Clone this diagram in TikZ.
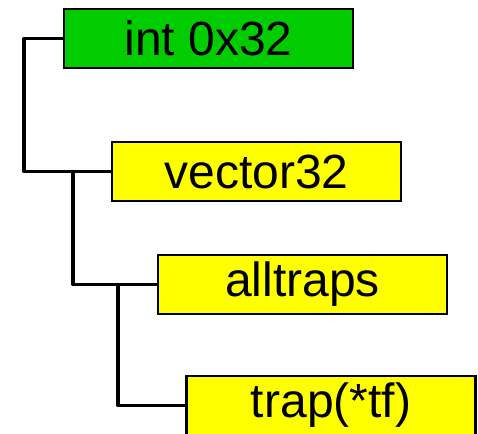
\documentclass[tikz,border=0pt]{standalone}
\usepackage{fontspec}
\setmainfont{Liberation Sans}
\usetikzlibrary{positioning}
\definecolor{rootgreen}{HTML}{00CC00}
\definecolor{callyellow}{HTML}{FFFF00}

\begin{document}
\begin{tikzpicture}[
  x=1pt, y=-1pt,
  frame/.style={draw, line width=2.2pt, minimum width=289pt, minimum height=59pt,
                inner sep=0pt, font=\fontsize{48}{50}\selectfont},
  link/.style={line width=3.3pt, line cap=round, line join=round}
]
  \useasboundingbox (0,0) rectangle (478,433);

  \node[frame, fill=rootgreen] (int) at (208.5, 38.5) {int 0x32};
  \node[frame, fill=callyellow] (vec) at (256.5, 171.5) {vector32};
  \node[frame, fill=callyellow] (all) at (302.5, 284.5) {alltraps};
  \node[frame, fill=callyellow] (trap) at (331, 405.5) {trap(*tf)};

  \draw[link] (int.west) -- ++(-39,0) |- (vec.west);
  \draw[link] ([xshift=-38pt]vec.west) |- (all.west);
  \draw[link] ([xshift=-39pt]all.west) |- (trap.west);
\end{tikzpicture}
\end{document}
